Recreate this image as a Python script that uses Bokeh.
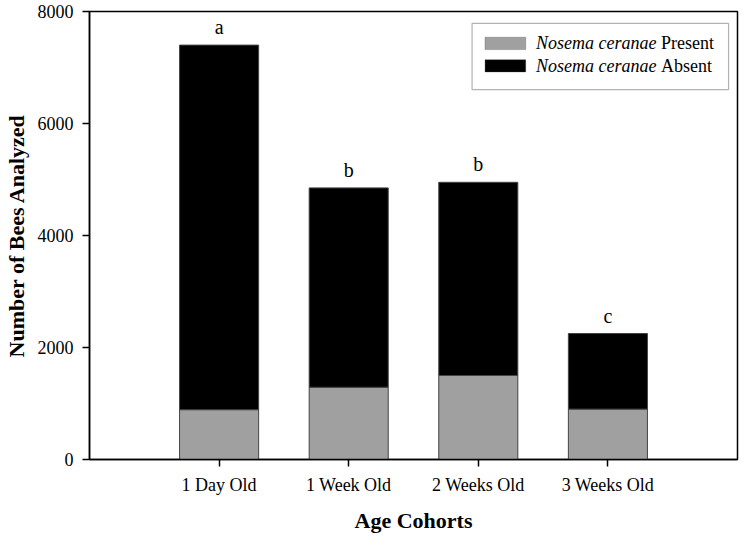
from bokeh.plotting import figure
from bokeh.models import Range1d, FixedTicker, Label, BoxAnnotation, ColumnDataSource
from bokeh.embed import file_html
from bokeh.resources import INLINE
from bokeh.core.properties import value

# ---- data ----
categories = ["1 Day Old", "1 Week Old", "2 Weeks Old", "3 Weeks Old"]
present = [890, 1290, 1500, 900]          # Nosema ceranae Present
total = [7400, 4850, 4950, 2250]          # total bees analyzed
absent = [t - p for t, p in zip(total, present)]  # Nosema ceranae Absent
letters = ["a", "b", "b", "c"]
y_ticks = [0, 2000, 4000, 6000, 8000]

xpos = list(range(1, len(categories) + 1))
src = ColumnDataSource(dict(x=xpos, present=present, absent=absent,
                            total=total, letters=letters))

SERIF = "Liberation Serif"

p = figure(width=739, height=535, x_range=Range1d(0, len(categories) + 1),
           y_range=Range1d(0, 8000), output_backend="svg",
           toolbar_location=None, min_border_left=82, min_border_right=2,
           min_border_top=11, min_border_bottom=0)

p.vbar_stack(["present", "absent"], x="x", width=0.61, source=src,
             fill_color=["#a0a0a0", "#000000"], line_color="#444444",
             line_width=1)

p.text(x="x", y="total", text="letters", source=src, text_align="center",
       text_baseline="bottom", y_offset=-7, text_font=value(SERIF),
       text_font_size="20px", text_color="black")

# axes / frame
p.xgrid.visible = False
p.ygrid.visible = False
p.outline_line_color = "black"
p.outline_line_width = 1.5
p.background_fill_color = "white"
p.border_fill_color = "white"

p.xaxis.ticker = FixedTicker(ticks=xpos)
p.xaxis.major_label_overrides = {x: c for x, c in zip(xpos, categories)}
p.yaxis.ticker = FixedTicker(ticks=y_ticks)

for ax in (p.xaxis[0], p.yaxis[0]):
    ax.axis_line_color = "black"
    ax.axis_line_width = 1.5
    ax.major_tick_line_color = "black"
    ax.major_tick_line_width = 1.5
    ax.major_tick_in = 0
    ax.major_tick_out = 7
    ax.minor_tick_line_color = None
    ax.major_label_text_font = SERIF
    ax.major_label_text_font_size = "18px"
    ax.major_label_text_color = "black"
    ax.axis_label_text_font = SERIF
    ax.axis_label_text_font_style = "bold"
    ax.axis_label_text_font_size = "22px"
    ax.axis_label_text_color = "black"

p.xaxis.axis_label = "Age Cohorts"
p.yaxis.axis_label = "Number of Bees Analyzed"
p.xaxis.major_label_standoff = 8
p.xaxis.axis_label_standoff = 10
p.yaxis.major_label_standoff = 9
p.yaxis.axis_label_standoff = 6

# ---- legend (drawn manually so the species name can be italic) ----
p.add_layout(BoxAnnotation(left=2.952, right=4.931, top=7787, bottom=6604,
                           fill_color="white", fill_alpha=1.0,
                           line_color="black", line_width=1.2))
p.add_layout(BoxAnnotation(left=3.052, right=3.366, top=7540, bottom=7320,
                           fill_color="#a0a0a0", fill_alpha=1.0,
                           line_color="#444444", line_width=1))
p.add_layout(BoxAnnotation(left=3.052, right=3.366, top=7140, bottom=6920,
                           fill_color="#000000", fill_alpha=1.0,
                           line_color="#444444", line_width=1))

leg_font = "18px"
italic_w = 6.693 * 18 + 4.5
for ylab, word in [(7430, "Present"), (7030, "Absent")]:
    p.add_layout(Label(x=3.446, y=ylab, text="Nosema ceranae",
                       text_font=SERIF, text_font_style="italic",
                       text_font_size=leg_font, text_baseline="middle",
                       text_color="black"))
    p.add_layout(Label(x=3.446, y=ylab, x_offset=italic_w, text=word,
                       text_font=SERIF, text_font_size=leg_font,
                       text_baseline="middle", text_color="black"))

open("out.html", "w").write(file_html(p, INLINE))
